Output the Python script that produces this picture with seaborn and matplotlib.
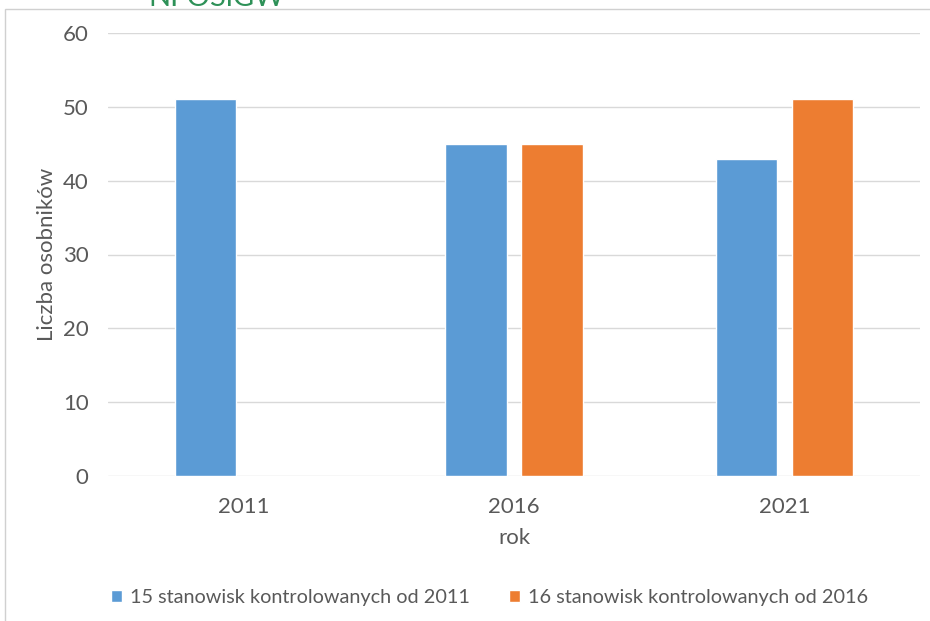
import matplotlib
matplotlib.use("Agg")
import matplotlib.pyplot as plt
import numpy as np
import pandas as pd
import seaborn as sns
from matplotlib.patches import Rectangle

years = ["2011", "2016", "2021"]
series_names = ["15 stanowisk kontrolowanych od 2011",
                "16 stanowisk kontrolowanych od 2016"]
values_15 = [51, 45, 43]
values_16 = [np.nan, 45, 51]
colors = ["#5B9BD5", "#ED7D31"]

df = pd.DataFrame({
    "rok": years * 2,
    "seria": [series_names[0]] * 3 + [series_names[1]] * 3,
    "liczba": values_15 + values_16,
})

sns.set_theme(style="white")
plt.rcParams["font.family"] = ["Lato", "DejaVu Sans"]
text_color = "#595959"
grid_color = "#D9D9D9"

fig = plt.figure(figsize=(9.3, 6.21), dpi=100)
ax = fig.add_axes([108 / 930, 1 - 476 / 621, 812 / 930, (476 - 33) / 621])

sns.barplot(data=df, x="rok", y="liczba", hue="seria", order=years,
            hue_order=series_names, palette=colors, width=0.562, gap=0.197,
            saturation=1, ax=ax, legend=True)

ax.set_ylim(0, 60)
ax.set_yticks(range(0, 61, 10))
ax.yaxis.grid(True, color=grid_color, linewidth=1)
ax.set_axisbelow(True)
for s in ax.spines.values():
    s.set_visible(False)
ax.tick_params(axis="both", length=0, labelsize=16, colors=text_color)
ax.tick_params(axis="y", pad=14)
ax.tick_params(axis="x", pad=15)
ax.set_ylabel("Liczba osobników", fontsize=16, color=text_color, labelpad=4)
ax.set_xlabel("rok", fontsize=16, color=text_color, labelpad=8)

handles, labels = ax.get_legend_handles_labels()
ax.legend(handles, labels, loc="center", bbox_to_anchor=(0.47, -0.275),
          ncol=2, frameon=False, fontsize=14.3, handlelength=0.55,
          handleheight=0.55, handletextpad=0.4, columnspacing=2.0,
          labelcolor=text_color)

# chart frame and clipped title above it
fig.patches.append(Rectangle((5 / 930, -0.1), 1.2, 1 - 9 / 621 + 0.1,
                             transform=fig.transFigure, fill=False,
                             edgecolor="#D0D0D0", linewidth=1))
fig.text(148 / 930, 1 - 6 / 621, "NFOŚiGW", color="#2E9158", fontsize=21,
         ha="left", va="baseline")

fig.savefig("out.png", dpi=100, facecolor="white")
